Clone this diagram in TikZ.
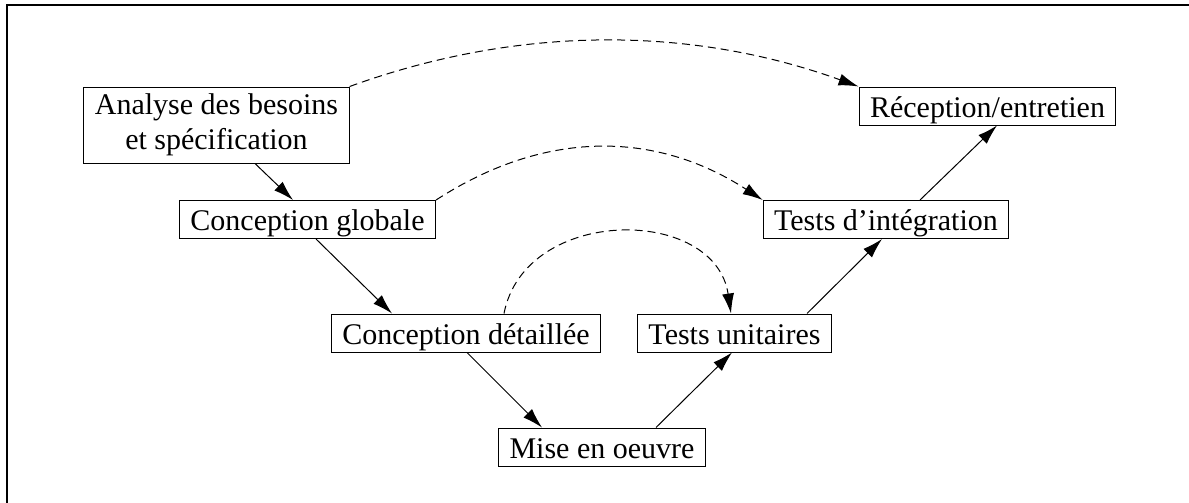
\documentclass[tikz,border=0pt]{standalone}
\usepackage{fontspec}
\setmainfont{Liberation Serif}
\usetikzlibrary{arrows.meta}
\begin{document}
\begin{tikzpicture}[x=0.5pt,y=-0.5pt,
  every node/.style={font=\fontsize{15}{17.5}\selectfont},
  phase/.style={draw,line width=0.5pt,inner xsep=5.5pt,inner ysep=1pt,
    text height=14pt,text depth=3pt},
  phasetwo/.style={draw,line width=0.5pt,inner xsep=5.5pt,inner ysep=1pt,
    align=center,minimum height=38pt},
  flow/.style={line width=0.5pt,-{Latex[length=10pt,width=6pt]}},
  check/.style={flow,dash pattern=on 4pt off 2.5pt}]
\useasboundingbox (0,0) rectangle (1189,503);
% open frame (left and top edges)
\draw[line width=1pt] (7,503) -- (7,5) -- (1189,5);

% phases of the V cycle
\node[phasetwo] (A)  at (216.5,125)   {Analyse des besoins\\et spécification};
\node[phase]    (CG) at (307.5,219.5) {Conception globale};
\node[phase]    (CD) at (466,333)     {Conception détaillée};
\node[phase]    (M)  at (602,447)     {Mise en oeuvre};
\node[phase]    (TU) at (734.5,333)   {Tests unitaires};
\node[phase]    (TI) at (886,219.5)   {Tests d’intégration};
\node[phase]    (R)  at (987.5,106)   {Réception/entretien};

% descending and ascending branches
\draw[flow] ([xshift=19.25pt]A.south) -- ([xshift=-7.25pt]CG.north);
\draw[flow] ([xshift=4.25pt]CG.south) -- ([xshift=-37pt]CD.north);
\draw[flow] ([xshift=0.5pt]CD.south) -- ([xshift=-30pt]M.north);
\draw[flow] ([xshift=27pt]M.north) -- ([xshift=-1.25pt]TU.south);
\draw[flow] ([xshift=36.25pt]TU.north) -- ([xshift=-2pt]TI.south);
\draw[flow] ([xshift=17pt]TI.north) -- ([xshift=4.75pt]R.south);

% verification links
\draw[check] (A.north east) .. controls +(168,-61) and +(-169,-61) .. (R.north west);
\draw[check] (CG.north east) .. controls +(108,-70) and +(-108,-70) .. (TI.north west);
\draw[check] ([xshift=19pt]CD.north) .. controls +(21,-108) and +(-16,-108) .. ([xshift=-1.75pt]TU.north);
\end{tikzpicture}
\end{document}
